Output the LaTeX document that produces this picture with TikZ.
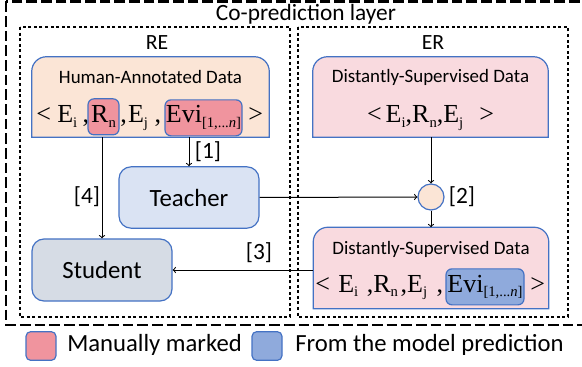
\documentclass[tikz,border=0pt]{standalone}
\usepackage{fontspec}
\setmainfont{Carlito}
\newfontfamily\tms{Liberation Serif}
\usetikzlibrary{positioning}
\definecolor{boxblue}{HTML}{4472C4}
\definecolor{humanfill}{HTML}{FBE5D6}
\definecolor{distfill}{HTML}{F9DADF}
\definecolor{markpink}{HTML}{F0949E}
\definecolor{predblue}{HTML}{8FAADC}
\definecolor{teachfill}{HTML}{DAE3F3}
\definecolor{studfill}{HTML}{D6DCE5}
% small lowered index for the tuples
\newcommand{\sbs}[1]{\raisebox{-3.5pt}{\fontsize{11}{11}\selectfont #1}}
\tikzset{
  outerbox/.style={line width=2.2pt,dash pattern=on 8pt off 3pt},
  layerbox/.style={line width=2.2pt,dash pattern=on 2.2pt off 2pt},
  databox/.style={minimum width=#1,minimum height=60pt,inner sep=0pt},
  modelbox/.style={draw=boxblue,line width=0.9pt,rounded corners=9pt,minimum width=105pt,minimum height=46pt,font=\fontsize{18.6}{20}\selectfont},
  markbox/.style={draw=boxblue,line width=0.9pt,rounded corners=4.5pt,inner sep=0pt,minimum height=27pt,anchor=base},
  tup/.style={inner sep=0pt,anchor=base west,font=\tms\fontsize{19.5}{20}\selectfont},
  title/.style={font=\fontsize{14.2}{16}\selectfont},
  lab/.style={font=\fontsize{17.5}{19}\selectfont},
  legsq/.style={draw=boxblue,line width=0.9pt,rounded corners=3.5pt,minimum width=22.5pt,minimum height=21.5pt,inner sep=0pt},
  legtext/.style={anchor=west,inner sep=0pt,font=\fontsize{18.5}{20}\selectfont}
}
\begin{document}
\begin{tikzpicture}[x=0.75pt,y=-0.75pt]
\useasboundingbox (0,0) rectangle (582,367);

% frames
\draw[outerbox] (6,1.5) rectangle (600,325);
\node[font=\fontsize{17.5}{19}\selectfont] (layer) at (306,14) {Co-prediction layer};
\draw[layerbox] (20,27) rectangle (290,317);
\draw[layerbox] (298,27) rectangle (568,317);
\node[font=\fontsize{16.3}{18}\selectfont] (re) at (157,43) {RE};
\node[font=\fontsize{16.3}{18}\selectfont] (er) at (433,43) {ER};

% human-annotated data
\node[databox=177.75pt] (hd) at (150.5,97) {};
\draw[boxblue,fill=humanfill,line width=0.9pt] (hd.south west) [rounded corners=11pt] -- (hd.north west) -- (hd.north east) [sharp corners] -- (hd.south east) -- cycle;
\node[title] (hdtitle) at (150.5,77) {Human-Annotated Data};
\node[tup] (hdlt) at (36,123) {<};
\node[tup] (hdei) at (57,123) {E\sbs{i}\kern4pt,};
\node[markbox,fill=markpink,minimum width=23.25pt] (hdrn) at (103.5,123) {\tms\fontsize{19.5}{20}\selectfont R\sbs{n}};
\node[tup] (hdej) at (120,123) {,\kern1pt E\sbs{j}\kern5pt,};
\node[markbox,fill=markpink,minimum width=57.75pt] (hdevi) at (203.5,123) {\tms\fontsize{19.5}{20}\selectfont Evi\sbs{[1,...\textit{n}]}};
\node[tup] (hdgt) at (248,123) {>};

% distantly-supervised data (input)
\node[databox=176.25pt] (ds) at (430.5,97) {};
\draw[boxblue,fill=distfill,line width=0.9pt] (ds.south west) [rounded corners=11pt] -- (ds.north west) -- (ds.north east) [sharp corners] -- (ds.south east) -- cycle;
\node[title] (dstitle) at (430.5,77) {Distantly-Supervised Data};
\node[tup,anchor=base] (dstup) at (430.5,123) {<\kern3pt E\sbs{i},R\sbs{n},E\sbs{j}\kern12pt>};

% distantly-supervised data (with evidence)
\node[databox=176.25pt,minimum height=60.75pt] (dsev) at (431,268) {};
\draw[boxblue,fill=distfill,line width=0.9pt] (dsev.south west) [rounded corners=11pt] -- (dsev.north west) -- (dsev.north east) [sharp corners] -- (dsev.south east) -- cycle;
\node[title] (dsevtitle) at (431,249) {Distantly-Supervised Data};
\node[tup] (dsevlt) at (315,292) {<};
\node[tup] (dsevrest) at (338,292) {E\sbs{i}\kern6.5pt,R\sbs{n}\kern2pt,E\sbs{j}\kern7pt,};
\node[markbox,fill=predblue,minimum width=58.5pt] (dsevevi) at (485,292) {\tms\fontsize{19.5}{20}\selectfont Evi\sbs{[1,...\textit{n}]}};
\node[tup] (dsevgt) at (530,292) {>};

% models
\node[modelbox,fill=teachfill] (teacher) at (189,197.5) {Teacher};
\node[modelbox,fill=studfill,minimum height=46.5pt] (student) at (102,270) {Student};
\node[circle,draw=boxblue,line width=0.9pt,fill=humanfill,minimum size=19.5pt,inner sep=0pt] (merge) at (431,197) {};

% flows
\draw[->,line width=0.75pt] (teacher.north |- hd.south) -- (teacher.north);
\node[lab] (l1) at (208,152) {[1]};
\draw[->,line width=0.75pt] (ds.south -| merge.north) -- (merge.north);
\draw[->,line width=0.75pt] (teacher.east) -- (merge.west);
\node[lab] (l2) at (462,197) {[2]};
\draw[->,line width=0.75pt] (merge.south) -- (dsev.north -| merge.south);
\draw[->,line width=0.75pt] (dsev.west |- student.east) -- (student.east);
\node[lab] (l3) at (259,253) {[3]};
\draw[->,line width=0.75pt] (student.north |- hd.south) -- (student.north);
\node[lab] (l4) at (87,197) {[4]};

% legend
\node[legsq,fill=markpink] (legmark) at (41,346) {};
\node[legtext] (legmarktext) at (67,345) {Manually marked};
\node[legsq,fill=predblue] (legpred) at (267,346) {};
\node[legtext] (legpredtext) at (295,345) {From the model prediction};
\end{tikzpicture}
\end{document}
